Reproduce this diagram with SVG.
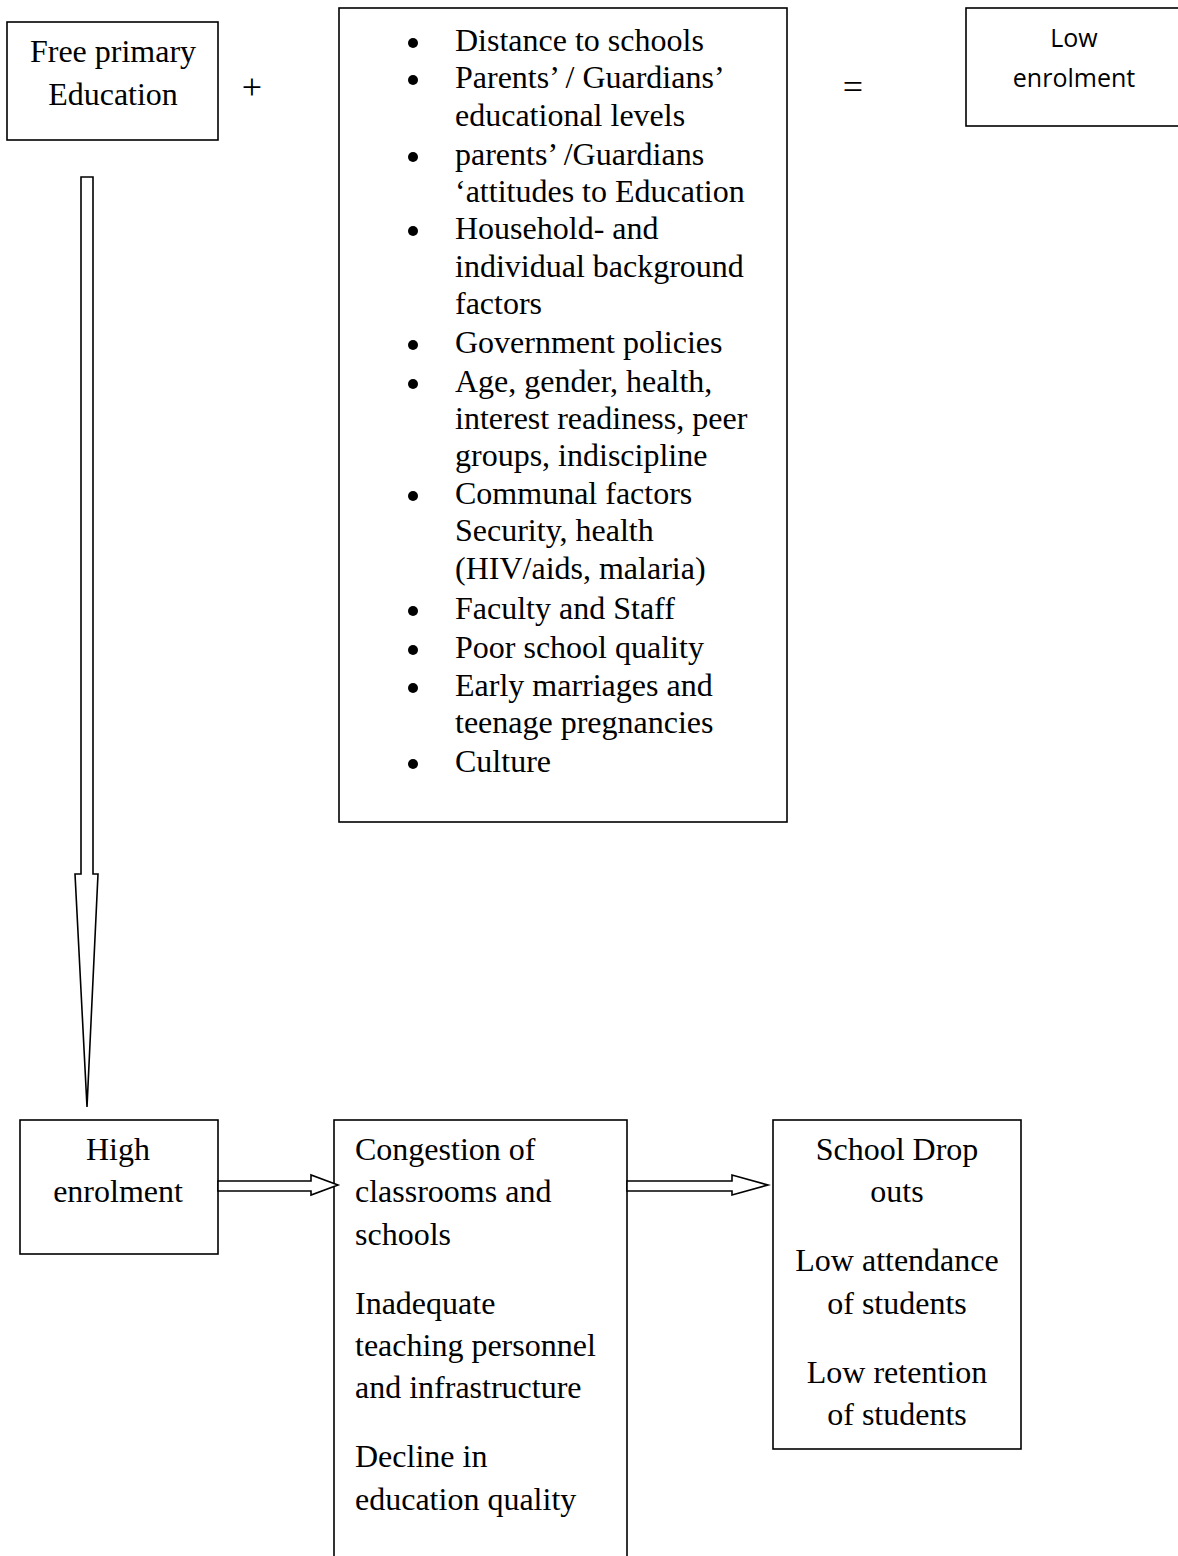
<svg xmlns="http://www.w3.org/2000/svg" width="1178" height="1556" viewBox="0 0 1178 1556">
<style>
.box{fill:#fff;stroke:#000;stroke-width:1.6}
.arr{fill:#fff;stroke:#000;stroke-width:1.6;stroke-linejoin:miter}
.t{font-family:"Liberation Serif","Times New Roman",serif;font-size:32px;fill:#000}
.c{text-anchor:middle}
.s{font-family:"Open Sans","Liberation Sans",sans-serif;font-size:25px;fill:#000;text-anchor:middle}
.b{fill:#000}
</style>
<rect width="1178" height="1556" fill="#fff"/>
<g id="free-primary">
<rect class="box" x="7" y="22" width="211" height="118"/>
<text class="t c" x="113" y="62">Free primary</text>
<text class="t c" x="113" y="105">Education</text>
</g>
<text class="t c" x="252" y="99" style="font-size:36px">+</text>
<text class="t c" x="853" y="99" style="font-size:36px">=</text>
<g id="factors">
<rect class="box" x="339" y="8" width="448" height="814"/>
<g class="b">
<circle cx="413" cy="43" r="5"/>
<circle cx="413" cy="80" r="5"/>
<circle cx="413" cy="157" r="5"/>
<circle cx="413" cy="231" r="5"/>
<circle cx="413" cy="345" r="5"/>
<circle cx="413" cy="384" r="5"/>
<circle cx="413" cy="496" r="5"/>
<circle cx="413" cy="611" r="5"/>
<circle cx="413" cy="650" r="5"/>
<circle cx="413" cy="688" r="5"/>
<circle cx="413" cy="764" r="5"/>
</g>
<text class="t" x="455" y="51">Distance to schools</text>
<text class="t" x="455" y="88">Parents’ / Guardians’</text>
<text class="t" x="455" y="126">educational levels</text>
<text class="t" x="455" y="165">parents’ /Guardians</text>
<text class="t" x="455" y="202">‘attitudes to Education</text>
<text class="t" x="455" y="239">Household- and</text>
<text class="t" x="455" y="277">individual background</text>
<text class="t" x="455" y="314">factors</text>
<text class="t" x="455" y="353">Government policies</text>
<text class="t" x="455" y="392">Age, gender, health,</text>
<text class="t" x="455" y="429">interest readiness, peer</text>
<text class="t" x="455" y="466">groups, indiscipline</text>
<text class="t" x="455" y="504">Communal factors</text>
<text class="t" x="455" y="541">Security, health</text>
<text class="t" x="455" y="579">(HIV/aids, malaria)</text>
<text class="t" x="455" y="619">Faculty and Staff</text>
<text class="t" x="455" y="658">Poor school quality</text>
<text class="t" x="455" y="696">Early marriages and</text>
<text class="t" x="455" y="733">teenage pregnancies</text>
<text class="t" x="455" y="772">Culture</text>
</g>
<g id="low-enrolment">
<rect class="box" x="966" y="8" width="230" height="118"/>
<text class="s" x="1074" y="47">Low</text>
<text class="s" x="1074" y="87">enrolment</text>
</g>
<g id="high-enrolment">
<rect class="box" x="20" y="1120" width="198" height="134"/>
<text class="t c" x="118" y="1160">High</text>
<text class="t c" x="118" y="1202">enrolment</text>
</g>
<g id="congestion">
<rect class="box" x="334" y="1120" width="293" height="450"/>
<text class="t" x="355" y="1160">Congestion of</text>
<text class="t" x="355" y="1202">classrooms and</text>
<text class="t" x="355" y="1245">schools</text>
<text class="t" x="355" y="1314">Inadequate</text>
<text class="t" x="355" y="1356">teaching personnel</text>
<text class="t" x="355" y="1398">and infrastructure</text>
<text class="t" x="355" y="1467">Decline in</text>
<text class="t" x="355" y="1510">education quality</text>
</g>
<g id="dropouts">
<rect class="box" x="773" y="1120" width="248" height="329"/>
<text class="t c" x="897" y="1160">School Drop</text>
<text class="t c" x="897" y="1202">outs</text>
<text class="t c" x="897" y="1271">Low attendance</text>
<text class="t c" x="897" y="1314">of students</text>
<text class="t c" x="897" y="1383">Low retention</text>
<text class="t c" x="897" y="1425">of students</text>
</g>
<g id="connectors">
<polygon class="arr" points="81,177 93,177 93,874 98,874 87,1107 75,874 81,874"/>
<polygon class="arr" points="218,1181 311,1181 311,1175 338,1185 311,1195 311,1191 218,1191"/>
<polygon class="arr" points="627,1181 732,1181 732,1175 768,1185 732,1195 732,1191 627,1191"/>
</g>
</svg>
